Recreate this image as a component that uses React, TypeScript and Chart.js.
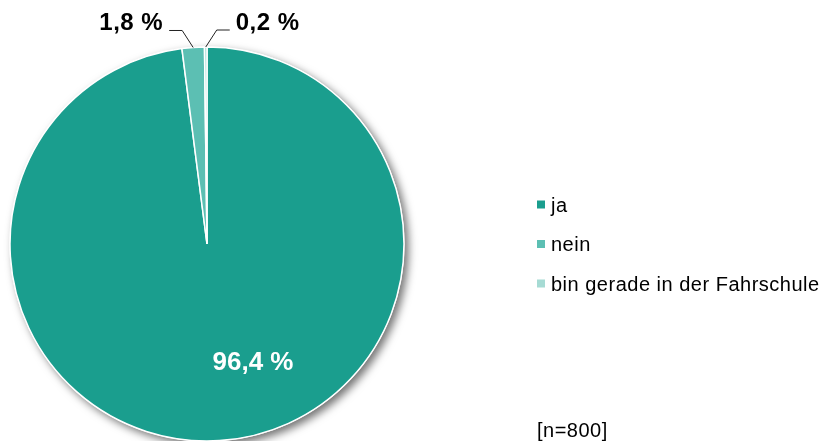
import React, { useEffect, useRef } from "react";
import { Chart, registerables } from "chart.js";

Chart.register(...registerables);

const categories = ["ja", "nein", "bin gerade in der Fahrschule"];
const values = [96.4, 1.8, 0.2];
const valueLabels = ["96,4 %", "1,8 %", "0,2 %"];
const colors = ["#1a9e8e", "#5cbfb3", "#a6dbd4"];
const sampleNote = "[n=800]";

const shadowPlugin = {
  id: "pieShadow",
  beforeDatasetsDraw(chart: any) {
    const meta = chart.getDatasetMeta(0);
    const arc = meta.data[0];
    if (!arc) return;
    const ctx = chart.ctx;
    ctx.save();
    ctx.shadowColor = "rgba(0,0,0,0.55)";
    ctx.shadowBlur = 9;
    ctx.shadowOffsetX = 4;
    ctx.shadowOffsetY = 4;
    ctx.fillStyle = "#ffffff";
    ctx.beginPath();
    ctx.arc(arc.x, arc.y, arc.outerRadius + 0.5, 0, Math.PI * 2);
    ctx.fill();
    ctx.restore();
  },
};

const labelPlugin = {
  id: "pieLabels",
  afterDatasetsDraw(chart: any) {
    const meta = chart.getDatasetMeta(0);
    const arcs = meta.data;
    const ctx = chart.ctx;
    ctx.save();
    const a0 = arcs[0];
    ctx.font = "bold 26px Arial, 'Liberation Sans', sans-serif";
    (ctx as any).letterSpacing = "0px";
    ctx.fillStyle = "#ffffff";
    ctx.textAlign = "center";
    ctx.textBaseline = "alphabetic";
    ctx.fillText(valueLabels[0], a0.x + 46, a0.y + 126);

    ctx.font = "bold 24px Arial, 'Liberation Sans', sans-serif";
    (ctx as any).letterSpacing = "0.5px";
    ctx.fillStyle = "#000000";
    ctx.strokeStyle = "#222222";
    ctx.lineWidth = 1;
    const sides = [0, -1, 1];
    for (let i = 1; i < arcs.length; i++) {
      const a = arcs[i];
      const mid = (a.startAngle + a.endAngle) / 2;
      const ax = a.x + Math.cos(mid) * a.outerRadius;
      const ay = a.y + Math.sin(mid) * a.outerRadius;
      const s = sides[i];
      const ex = ax + s * 11;
      const ey = ay - 17;
      const hx = ex + s * 13;
      ctx.beginPath();
      ctx.moveTo(ax, ay);
      ctx.lineTo(ex, ey);
      ctx.lineTo(hx, ey);
      ctx.stroke();
      ctx.textAlign = s < 0 ? "right" : "left";
      ctx.fillText(valueLabels[i], hx + s * 6, ey);
    }
    ctx.restore();
  },
};

const legendPlugin = {
  id: "customLegend",
  afterDraw(chart: any) {
    const ctx = chart.ctx;
    ctx.save();
    ctx.font = "20px Arial, 'Liberation Sans', sans-serif";
    (ctx as any).letterSpacing = "0.5px";
    ctx.textAlign = "left";
    ctx.textBaseline = "alphabetic";
    const x0 = 537;
    const y0 = 211.5;
    const step = 39.5;
    categories.forEach((c, i) => {
      const y = y0 + i * step;
      ctx.fillStyle = colors[i];
      ctx.fillRect(x0, y - 11, 8, 8);
      ctx.fillStyle = "#000000";
      ctx.fillText(c, x0 + 14, y);
    });
    ctx.fillText(sampleNote, 537, 436.5);
    ctx.restore();
  },
};

export default function App() {
  const ref = useRef<HTMLCanvasElement | null>(null);
  useEffect(() => {
    if (!ref.current) return;
    const chart = new Chart(ref.current, {
      type: "pie",
      data: {
        labels: categories,
        datasets: [
          {
            data: values,
            backgroundColor: colors,
            borderColor: "#ffffff",
            borderWidth: 1.5,
          },
        ],
      },
      options: {
        responsive: false,
        animation: false,
        radius: 197,
        layout: { padding: { left: 0, right: 410, top: 47, bottom: 0 } },
        plugins: {
          legend: { display: false },
          tooltip: { enabled: false },
        },
      } as any,
      plugins: [shadowPlugin, labelPlugin, legendPlugin],
    });
    return () => chart.destroy();
  }, []);
  return (
    <div style={{ position: "fixed", left: 0, top: 0, width: 824, height: 441, background: "#ffffff" }}>
      <canvas ref={ref} width={824} height={441} style={{ display: "block" }} />
    </div>
  );
}
